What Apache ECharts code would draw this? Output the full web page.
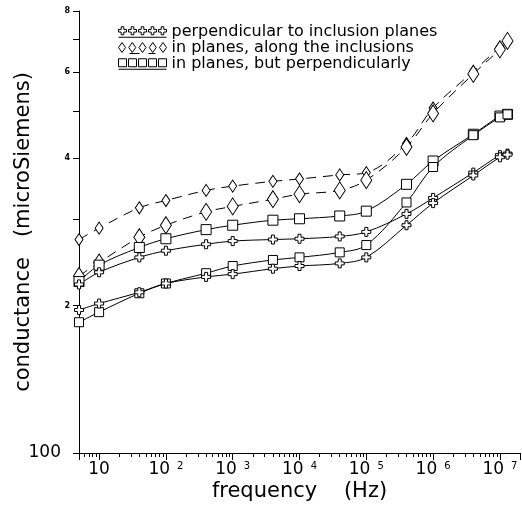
<!DOCTYPE html>
<html><head><meta charset="utf-8">
<script src="https://cdn.jsdelivr.net/npm/echarts@6/dist/echarts.min.js"></script>
<style>html,body{margin:0;padding:0;background:#fff}#c{width:522px;height:508px}</style>
</head><body><div id="c"></div><script>
// frequency (Hz)
const frequencies = [5, 10, 40, 100, 400, 1e3, 4e3, 1e4, 4e4, 1e5, 4e5, 1e6, 4e6, 1e7, 1.3e7];
// conductance (microSiemens)
const perpA   = [2.21, 2.34, 2.51, 2.59, 2.67, 2.71, 2.73, 2.74, 2.77, 2.83, 3.08, 3.32, 3.74, 4.06, 4.09];
const perpB   = [1.96, 2.02, 2.13, 2.22, 2.29, 2.32, 2.38, 2.41, 2.44, 2.51, 2.92, 3.24, 3.69, 4.02, 4.07];
const alongA  = [2.73, 2.88, 3.17, 3.28, 3.44, 3.51, 3.59, 3.63, 3.70, 3.74, 4.29, 5.07, 6.02, 6.75, 6.91];
const alongB  = [2.30, 2.45, 2.76, 2.92, 3.11, 3.19, 3.30, 3.38, 3.44, 3.61, 4.22, 4.94, 5.95, 6.68, 6.95];
const acrossA = [2.24, 2.42, 2.63, 2.74, 2.86, 2.92, 2.99, 3.01, 3.05, 3.12, 3.54, 3.95, 4.48, 4.88, 4.92];
const acrossB = [1.85, 1.94, 2.12, 2.22, 2.33, 2.41, 2.48, 2.51, 2.57, 2.66, 3.25, 3.84, 4.46, 4.85, 4.92];

const legendNames = ['perpendicular to inclusion planes', 'in planes, along the inclusions', 'in planes, but perpendicularly'];
const xMajorTicks = [10, 100, 1e3, 1e4, 1e5, 1e6, 1e7];
const xMinorTicks = [6,7,8,9, 20,30,40,50,60,70,80,90, 200,300,400,500,600,700,800,900,
  2e3,3e3,4e3,5e3,6e3,7e3,8e3,9e3, 2e4,3e4,4e4,5e4,6e4,7e4,8e4,9e4, 2e5,3e5,4e5,5e5,6e5,7e5,8e5,9e5,
  2e6,3e6,4e6,5e6,6e6,7e6,8e6,9e6, 2e7];
const yTicks = [1, 2, 3, 4, 5, 6, 7, 8];
const yTickLabels = [1, 2, 4, 6, 8];
const yLabelText = {1: '100', 2: '2', 4: '4', 6: '6', 8: '8'};

const FONT = 'DejaVu Sans';

function pairs(ys) { return frequencies.map((f, i) => [f, ys[i]]); }

// legend icons
function crossRow() {
  let p = '';
  [4, 14, 24, 34, 44].forEach(c => {
    p += `M${c-1.3} 0H${c+1.3}V2.7H${c+4}V5.3H${c+1.3}V8H${c-1.3}V5.3H${c-4}V2.7H${c-1.3}Z`;
  });
  return 'path://' + p + 'M0 10.5H48';
}
function diamondRow() {
  let p = '';
  [3.5, 13.75, 24, 34.25, 44.5].forEach(c => {
    p += `M${c} 0L${c+3.5} 5L${c} 10L${c-3.5} 5Z`;
  });
  return 'path://' + p + 'M11 11H21M30 11H37';
}
function squareRow() {
  let p = '';
  [0, 10, 20, 30, 40].forEach(c => {
    p += `M${c} 0H${c+8}V8H${c}Z`;
  });
  return 'path://' + p + 'M0 10.5H48';
}

const CROSS = 'path://M3 0H6V3H9V6H6V9H3V6H0V3H3Z';
const DIAMOND = 'path://M5 0L10 7L5 14L0 7Z';
const SQUARE = 'path://M0 0H10V10H0Z';

function mk(name, ys, symbol, size, dashed) {
  return {
    type: 'line', name: name, data: pairs(ys), smooth: 0.35,
    symbol: symbol, symbolSize: size, showSymbol: true,
    lineStyle: {color: '#000', width: 1, type: dashed ? [10, 7] : 'solid'},
    itemStyle: {color: '#fff', borderColor: '#000', borderWidth: 1},
    emphasis: {disabled: true}, animation: false
  };
}

const chart = echarts.init(document.getElementById('c'), null, {renderer: 'canvas'});
const legendItemStyle = {color: '#fff', borderColor: '#000', borderWidth: 1};
chart.setOption({
  backgroundColor: '#fff',
  animation: false,
  grid: {left: 79, right: 2, top: 11, bottom: 55, outerBoundsMode: 'none'},
  legend: {
    orient: 'vertical', left: 118, top: 24, padding: 0,
    itemWidth: 48, itemHeight: 11, itemGap: 0,
    selectedMode: false,
    textStyle: {fontFamily: FONT, fontSize: 16, color: '#000', lineHeight: 14.5},
    data: [
      {name: legendNames[0], icon: crossRow(), itemStyle: legendItemStyle},
      {name: legendNames[1], icon: diamondRow(), itemStyle: legendItemStyle},
      {name: legendNames[2], icon: squareRow(), itemStyle: legendItemStyle}
    ]
  },
  xAxis: [{
    type: 'log', logBase: 10, min: 5, max: 2e7,
    name: 'frequency    (Hz)', nameLocation: 'middle', nameGap: 28, nameMoveOverlap: false,
    nameTextStyle: {fontFamily: FONT, fontSize: 21, color: '#000'},
    axisLine: {show: true, lineStyle: {color: '#000', width: 1}},
    axisTick: {show: true, inside: false, length: 7, lineStyle: {color: '#000', width: 1}},
    axisLabel: {
      show: true, margin: 8, customValues: xMajorTicks,
      formatter: v => {
        const e = Math.round(Math.log10(v));
        return e === 1 ? '{b|10}' : '{b|10}{s|' + e + '}';
      },
      rich: {
        b: {fontFamily: FONT, fontSize: 17, color: '#000'},
        s: {fontFamily: FONT, fontSize: 10, color: '#000', verticalAlign: 'top', padding: [0, 0, 0, 7]}
      }
    },
    splitLine: {show: false}, minorTick: {show: false}, minorSplitLine: {show: false}
  }, {
    type: 'log', logBase: 10, min: 5, max: 2e7, position: 'bottom',
    axisLine: {show: false},
    axisTick: {show: true, inside: false, length: 4, customValues: xMinorTicks, lineStyle: {color: '#000', width: 1}},
    axisLabel: {show: false}, splitLine: {show: false}
  }],
  yAxis: [{
    type: 'log', logBase: 2, min: 1, max: 8,
    name: 'conductance   (microSiemens)', nameLocation: 'middle', nameRotate: 90, nameGap: 45, nameMoveOverlap: false,
    nameTextStyle: {fontFamily: FONT, fontSize: 21, color: '#000'},
    axisLine: {show: true, lineStyle: {color: '#000', width: 1}},
    axisTick: {show: true, inside: false, length: 6, customValues: yTicks, lineStyle: {color: '#000'}},
    axisLabel: {
      show: true, margin: 9, customValues: yTickLabels,
      formatter: v => {
        const k = Math.round(v);
        return k === 1 ? '{big|' + yLabelText[k] + '}' : '{sm|' + yLabelText[k] + '}';
      },
      rich: {
        big: {fontFamily: FONT, fontSize: 17, color: '#000', padding: [0, 9, 0, 0]},
        sm: {fontFamily: FONT, fontSize: 8, fontWeight: 'bold', color: '#000'}
      }
    },
    splitLine: {show: false}
  }],
  series: [
    mk(legendNames[1], alongA, DIAMOND, [8, 12], true),
    mk(legendNames[1], alongB, DIAMOND, [11, 17], true),
    mk(legendNames[2], acrossA, SQUARE, 10, false),
    mk(legendNames[2], acrossB, SQUARE, 9, false),
    mk(legendNames[0], perpA, CROSS, 9, false),
    mk(legendNames[0], perpB, CROSS, 9, false)
  ]
});
</script></body></html>
